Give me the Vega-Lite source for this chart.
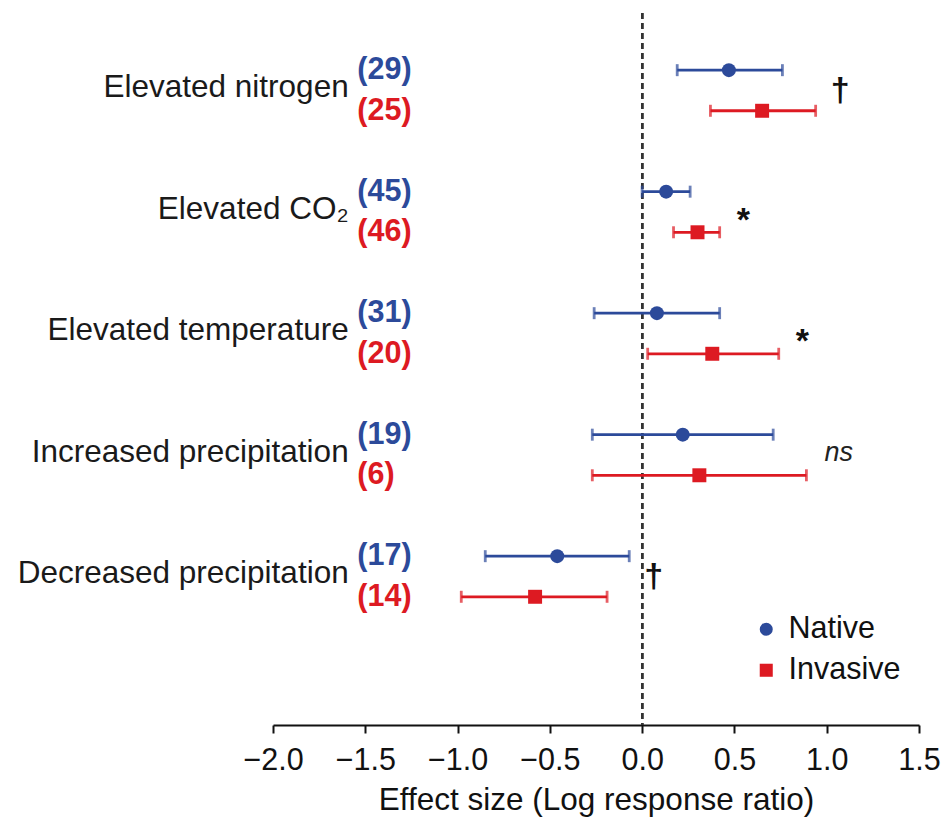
{
  "$schema": "https://vega.github.io/schema/vega-lite/v6.json",
  "width": 646,
  "height": 712,
  "autosize": "none",
  "padding": {"left": 273, "top": 13, "right": 25, "bottom": 101},
  "background": "white",
  "config": {
    "font": "Liberation Sans",
    "view": {"stroke": null}
  },
  "data": {
    "values": [
      {"treatment": "Elevated nitrogen", "group": "Native", "n": 29, "effect": 0.47, "lo": 0.19, "hi": 0.76, "sig": "†"},
      {"treatment": "Elevated nitrogen", "group": "Invasive", "n": 25, "effect": 0.65, "lo": 0.37, "hi": 0.94, "sig": "†"},
      {"treatment": "Elevated CO₂", "group": "Native", "n": 45, "effect": 0.13, "lo": 0.0, "hi": 0.26, "sig": "*"},
      {"treatment": "Elevated CO₂", "group": "Invasive", "n": 46, "effect": 0.30, "lo": 0.17, "hi": 0.42, "sig": "*"},
      {"treatment": "Elevated temperature", "group": "Native", "n": 31, "effect": 0.08, "lo": -0.26, "hi": 0.42, "sig": "*"},
      {"treatment": "Elevated temperature", "group": "Invasive", "n": 20, "effect": 0.38, "lo": 0.03, "hi": 0.74, "sig": "*"},
      {"treatment": "Increased precipitation", "group": "Native", "n": 19, "effect": 0.22, "lo": -0.27, "hi": 0.71, "sig": "ns"},
      {"treatment": "Increased precipitation", "group": "Invasive", "n": 6, "effect": 0.31, "lo": -0.27, "hi": 0.89, "sig": "ns"},
      {"treatment": "Decreased precipitation", "group": "Native", "n": 17, "effect": -0.46, "lo": -0.85, "hi": -0.07, "sig": "†"},
      {"treatment": "Decreased precipitation", "group": "Invasive", "n": 14, "effect": -0.58, "lo": -0.98, "hi": -0.19, "sig": "†"}
    ]
  },
  "layer": [
    {
      "mark": {"type": "rule", "strokeDash": [6, 4], "strokeWidth": 2, "color": "#333333"},
      "encoding": {"x": {"datum": 0, "type": "quantitative"}}
    },
    {
      "mark": {"type": "rule", "strokeWidth": 2.8},
      "encoding": {
        "x": {
          "field": "lo", "type": "quantitative",
          "scale": {"domain": [-2, 1.5], "nice": false, "zero": false},
          "axis": {
            "title": "Effect size (Log response ratio)",
            "values": [-2, -1.5, -1, -0.5, 0, 0.5, 1, 1.5],
            "format": ".1f",
            "grid": false,
            "domainColor": "#111111", "domainWidth": 2,
            "tickColor": "#111111", "tickWidth": 2, "tickSize": 8,
            "labelFontSize": 30.5, "labelColor": "#111111", "labelPadding": 12, "labelFlush": false,
            "titleFontSize": 31.5, "titleFontWeight": "normal", "titleColor": "#111111", "titlePadding": 9
          }
        },
        "x2": {"field": "hi"},
        "y": {"field": "treatment", "type": "nominal", "sort": null,
              "scale": {"domain": ["Elevated nitrogen", "Elevated CO₂", "Elevated temperature", "Increased precipitation", "Decreased precipitation"], "paddingInner": 0, "paddingOuter": 0.43, "align": 0.16},
              "axis": null},
        "yOffset": {"field": "group", "type": "nominal", "scale": {"domain": ["Native", "Invasive"], "paddingInner": 0, "paddingOuter": 0.496}},
        "stroke": {"field": "group", "type": "nominal", "scale": {"domain": ["Invasive", "Native"], "range": ["#dd1a22", "#2c4a9a"]}, "legend": null}
      }
    },
    {
      "mark": {"type": "tick", "orient": "vertical", "size": 12, "thickness": 2.8},
      "encoding": {
        "x": {"field": "lo", "type": "quantitative"},
        "y": {"field": "treatment", "type": "nominal", "sort": null, "axis": null},
        "yOffset": {"field": "group", "type": "nominal"},
        "fill": {"field": "group", "type": "nominal", "scale": {"domain": ["Invasive", "Native"], "range": ["#dd1a22", "#2c4a9a"]}, "legend": null}
      }
    },
    {
      "mark": {"type": "tick", "orient": "vertical", "size": 12, "thickness": 2.8},
      "encoding": {
        "x": {"field": "hi", "type": "quantitative"},
        "y": {"field": "treatment", "type": "nominal", "sort": null, "axis": null},
        "yOffset": {"field": "group", "type": "nominal"},
        "fill": {"field": "group", "type": "nominal", "legend": null}
      }
    },
    {
      "mark": {"type": "point", "filled": true, "opacity": 1, "size": 195},
      "encoding": {
        "x": {"field": "effect", "type": "quantitative"},
        "y": {"field": "treatment", "type": "nominal", "sort": null, "axis": null},
        "yOffset": {"field": "group", "type": "nominal"},
        "color": {"field": "group", "type": "nominal",
                  "scale": {"domain": ["Native", "Invasive"], "range": ["#2c4a9a", "#dd1a22"]},
                  "legend": {"title": null, "orient": "none", "legendX": 478, "legendY": 601,
                             "labelFontSize": 30.5, "labelColor": "#111111", "symbolSize": 170,
                             "labelOffset": 7, "rowPadding": 10, "symbolStrokeWidth": 0, "padding": 0}},
        "shape": {"field": "group", "type": "nominal",
                  "scale": {"domain": ["Native", "Invasive"], "range": ["circle", "square"]}}
      }
    },
    {
      "transform": [{"calculate": "'(' + datum.n + ')'", "as": "nlabel"}],
      "mark": {"type": "text", "align": "left", "baseline": "middle", "fontSize": 30.5, "fontWeight": "bold"},
      "encoding": {
        "x": {"datum": -1.543, "type": "quantitative"},
        "y": {"field": "treatment", "type": "nominal", "sort": null, "axis": null},
        "yOffset": {"field": "group", "type": "nominal"},
        "text": {"field": "nlabel"},
        "fill": {"field": "group", "type": "nominal", "legend": null}
      }
    },
    {
      "transform": [{"filter": "datum.group === 'Native'"}],
      "mark": {"type": "text", "align": "right", "baseline": "middle", "fontSize": 31.5, "color": "#1a1a1a", "dy": -2},
      "encoding": {
        "x": {"datum": -1.59, "type": "quantitative"},
        "y": {"field": "treatment", "type": "nominal", "sort": null, "axis": null},
        "text": {"field": "treatment"}
      }
    },
    {
      "transform": [{"filter": "datum.sig === '*'"}],
      "mark": {"type": "text", "align": "left", "baseline": "middle", "fontSize": 34, "fontWeight": "bold", "dx": 17, "dy": 9, "color": "#111111"},
      "encoding": {
        "x": {"aggregate": "max", "field": "hi", "type": "quantitative"},
        "y": {"field": "treatment", "type": "nominal", "sort": null, "axis": null},
        "text": {"field": "sig"}
      }
    },
    {
      "transform": [{"filter": "datum.sig === '†'"}],
      "mark": {"type": "text", "align": "left", "baseline": "middle", "fontSize": 34, "fontWeight": "bold", "dx": 15, "dy": 1, "color": "#111111"},
      "encoding": {
        "x": {"aggregate": "max", "field": "hi", "type": "quantitative"},
        "y": {"field": "treatment", "type": "nominal", "sort": null, "axis": null},
        "text": {"field": "sig"}
      }
    },
    {
      "transform": [{"filter": "datum.sig === 'ns'"}],
      "mark": {"type": "text", "align": "left", "baseline": "middle", "fontSize": 27, "fontStyle": "italic", "dx": 18, "dy": -2, "color": "#222222"},
      "encoding": {
        "x": {"aggregate": "max", "field": "hi", "type": "quantitative"},
        "y": {"field": "treatment", "type": "nominal", "sort": null, "axis": null},
        "text": {"field": "sig"}
      }
    }
  ]
}
